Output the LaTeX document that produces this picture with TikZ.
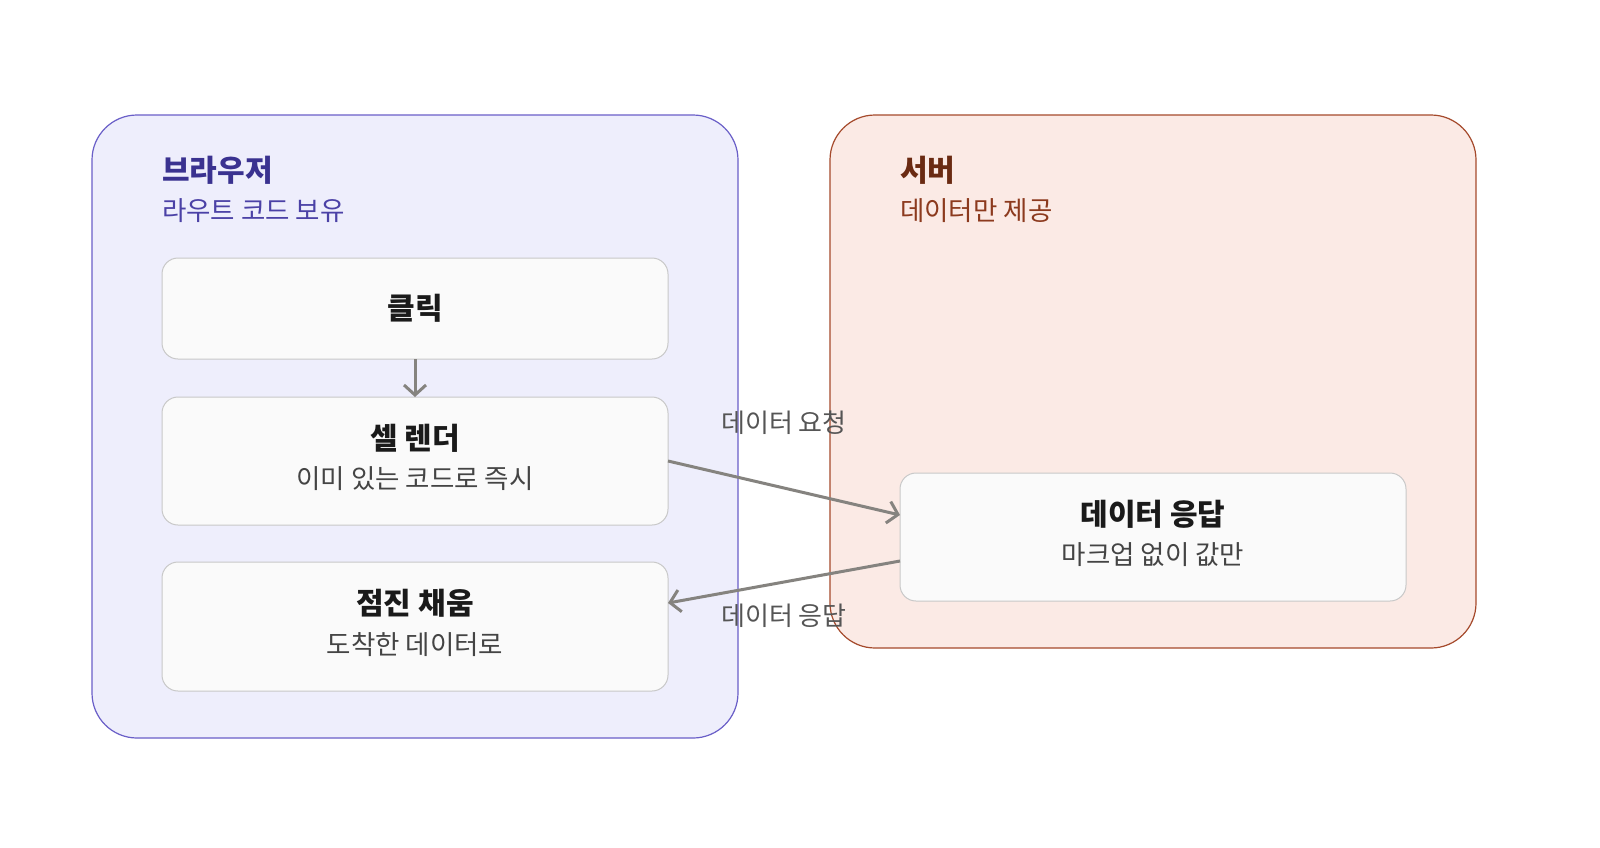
\documentclass[tikz,border=0pt]{standalone}
\usepackage{fontspec}
\setmainfont{Noto Sans CJK KR}
\newfontfamily\kr{Noto Sans CJK KR}
\usetikzlibrary{arrows.meta}
\definecolor{bfill}{HTML}{EEEEFC}
\definecolor{bdraw}{HTML}{6A5FC8}
\definecolor{btitle}{HTML}{3A3290}
\definecolor{bsub}{HTML}{4B41A6}
\definecolor{sfill}{HTML}{FBEAE5}
\definecolor{sdraw}{HTML}{A54A2C}
\definecolor{stitle}{HTML}{6A2A12}
\definecolor{ssub}{HTML}{8C3A1E}
\definecolor{nfill}{HTML}{FAFAFA}
\definecolor{ndraw}{HTML}{C8C8C8}
\definecolor{ntitle}{HTML}{1A1A1A}
\definecolor{nsub}{HTML}{444444}
\definecolor{arr}{HTML}{85837F}
\definecolor{lbl}{HTML}{555555}
\tikzset{
  grp/.style={rounded corners=45pt, line width=1.2pt},
  card/.style={draw=ndraw, fill=nfill, rounded corners=16pt, line width=1pt},
  ttl/.style={font=\kr\bfseries\fontsize{30}{35}\selectfont, text=ntitle, inner sep=0pt},
  sub/.style={font=\kr\fontsize{26.5}{31}\selectfont, text=nsub, inner sep=0pt},
  gttl/.style={font=\kr\bfseries\fontsize{30}{35}\selectfont, inner sep=0pt, anchor=west},
  gsub/.style={font=\kr\fontsize{26.5}{31}\selectfont, inner sep=0pt, anchor=west},
  elbl/.style={font=\kr\fontsize{26}{31}\selectfont, text=lbl, inner sep=0pt},
  conn/.style={draw=arr, line width=3pt, -{Straight Barb[length=10pt,width=22pt,line width=3pt]}},
}
\begin{document}
\begin{tikzpicture}[x=1pt,y=-1pt]
\useasboundingbox (0,0) rectangle (1600,847);
\fill[white] (0,0) rectangle (1600,847);
% groups
\path[grp, fill=bfill, draw=bdraw] (92,115) rectangle (738,738);
\path[grp, fill=sfill, draw=sdraw] (830,115) rectangle (1476,648);
\node[gttl, text=btitle] (bt) at (162,170) {브라우저};
\node[gsub, text=bsub] (bs) at (162,211) {라우트 코드 보유};
\node[gttl, text=stitle] (st) at (900,170) {서버};
\node[gsub, text=ssub] (ss) at (900,211) {데이터만 제공};
% cards
\path[card] (162,258) rectangle (668,359);
\node[ttl] (clickt) at (415,308) {클릭};
\path[card] (162,397) rectangle (668,525);
\node[ttl] (cellt) at (415,438) {셀 렌더};
\node[sub] (cells) at (415,479) {이미 있는 코드로 즉시};
\path[card] (162,562) rectangle (668,691);
\node[ttl] (fillt) at (415,603) {점진 채움};
\node[sub] (fills) at (415,645) {도착한 데이터로};
\path[card] (900,473) rectangle (1406,601);
\node[ttl] (respt) at (1153,514) {데이터 응답};
\node[sub] (resps) at (1153,555) {마크업 없이 값만};
% connector anchors
\coordinate (clickB) at (415,359);
\coordinate (cellT) at (415,397);
\coordinate (cellR) at (668,461);
\coordinate (respL1) at (900,515);
\coordinate (respL2) at (900,561);
\coordinate (fillR) at (668,603);
\draw[conn] (clickB) -- (cellT);
\draw[conn] (cellR) -- (respL1);
\draw[conn] (respL2) -- (fillR);
\node[elbl] (l1) at (784,423) {데이터 요청};
\node[elbl] (l2) at (784,616) {데이터 응답};
\end{tikzpicture}
\end{document}
